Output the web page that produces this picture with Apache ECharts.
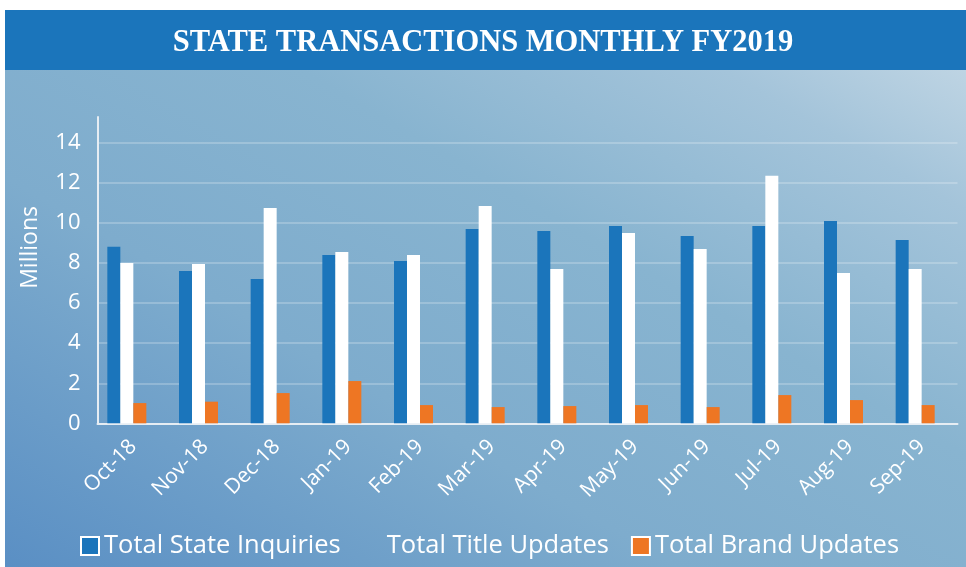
<!DOCTYPE html>
<html>
<head>
<meta charset="utf-8">
<title>State Transactions Monthly FY2019</title>
<script src="https://cdn.jsdelivr.net/npm/echarts@6/dist/echarts.min.js"></script>
<style>
  html, body {
    margin: 0;
    padding: 0;
    background: #fff;
  }
  .panel {
    position: relative;
    width: 966px;
    height: 567px;
  }
  .panel .bg {
    position: absolute;
    left: 5px;
    top: 10px;
    right: 0;
    bottom: 0;
    background: linear-gradient(to top right, #5a8fc4 0%, #7eaccd 35%, #88b4d0 60%, #a4c4da 82%, #c9dbe7 100%);
  }
  #chart {
    position: absolute;
    left: 0;
    top: 0;
    width: 966px;
    height: 567px;
  }
</style>
</head>
<body>
<div class="panel">
  <div class="bg"></div>
  <div id="chart"></div>
</div>

<script>
var months = ["Oct-18", "Nov-18", "Dec-18", "Jan-19", "Feb-19", "Mar-19",
              "Apr-19", "May-19", "Jun-19", "Jul-19", "Aug-19", "Sep-19"];

// millions
var stateInquiries = [8.82, 7.61, 7.21, 8.41, 8.11, 9.71, 9.61, 9.86, 9.36, 9.86, 10.11, 9.16];
var titleUpdates   = [8.01, 7.96, 10.76, 8.56, 8.41, 10.86, 7.71, 9.51, 8.71, 12.36, 7.51, 7.71];
var brandUpdates   = [1.01, 1.08, 1.51, 2.11, 0.91, 0.81, 0.86, 0.91, 0.81, 1.41, 1.16, 0.91];

var font = "'Open Sans', 'Noto Sans', sans-serif";

var chart = echarts.init(document.getElementById("chart"));

chart.setOption({
  backgroundColor: "transparent",
  animation: false,
  title: {
    text: "STATE TRANSACTIONS MONTHLY FY2019",
    left: "center",
    top: 23,
    textStyle: {
      fontFamily: "'Liberation Serif', 'DejaVu Serif', serif",
      fontWeight: "bold",
      fontSize: 30.5,
      color: "#fff"
    }
  },
  graphic: [
    {
      type: "rect",
      z: -1,
      shape: { x: 5, y: 10, width: 961, height: 60 },
      style: { fill: "#1b75bb" }
    },
    {
      type: "text",
      left: 19,
      top: 206,
      rotation: Math.PI / 2,
      style: {
        text: "Millions",
        fill: "#fff",
        font: "23px " + font
      }
    }
  ],
  legend: {
    left: 80,
    top: 533,
    padding: 0,
    itemWidth: 18,
    itemHeight: 18,
    itemGap: 22,
    icon: "rect",
    itemStyle: { borderColor: "#fff", borderWidth: 2 },
    textStyle: { color: "#fff", fontSize: 25.5, fontFamily: font },
    data: [
      { name: "Total State Inquiries" },
      { name: "Total Title Updates", itemStyle: { color: "transparent", borderColor: "transparent" } },
      { name: "Total Brand Updates" }
    ]
  },
  grid: {
    left: 97.5,
    right: 8.5,
    top: 117,
    bottom: 143.7
  },
  xAxis: {
    type: "category",
    data: months,
    axisLine: { lineStyle: { color: "#e6edf3", width: 2 } },
    axisTick: { lineStyle: { color: "#d3dbe3", width: 2 }, length: 6 },
    axisLabel: {
      rotate: 45,
      margin: 20,
      color: "#fff",
      fontSize: 21,
      fontFamily: font
    }
  },
  yAxis: {
    type: "value",
    min: 0,
    max: 15.3,
    interval: 2,
    axisLine: { show: true, lineStyle: { color: "#e6edf3", width: 2 } },
    axisTick: { show: false },
    axisLabel: {
      showMaxLabel: false,
      margin: 17,
      color: "#fff",
      fontSize: 22,
      fontFamily: font
    },
    splitLine: {
      showMaxLine: false,
      lineStyle: { color: "rgba(255,255,255,0.22)", width: 2 }
    }
  },
  series: [
    {
      name: "Total State Inquiries",
      type: "bar",
      barWidth: 13,
      barGap: "0%",
      itemStyle: { color: "#1b75bb" },
      data: stateInquiries
    },
    {
      name: "Total Title Updates",
      type: "bar",
      barWidth: 13,
      barGap: "0%",
      itemStyle: { color: "#ffffff" },
      data: titleUpdates
    },
    {
      name: "Total Brand Updates",
      type: "bar",
      barWidth: 13,
      barGap: "0%",
      itemStyle: { color: "#ee7623" },
      data: brandUpdates
    },
    {
      // empty slot, keeps the three bars left of the category centre
      name: "",
      type: "bar",
      barWidth: 13,
      barGap: "0%",
      data: []
    }
  ]
});
</script>
</body>
</html>
